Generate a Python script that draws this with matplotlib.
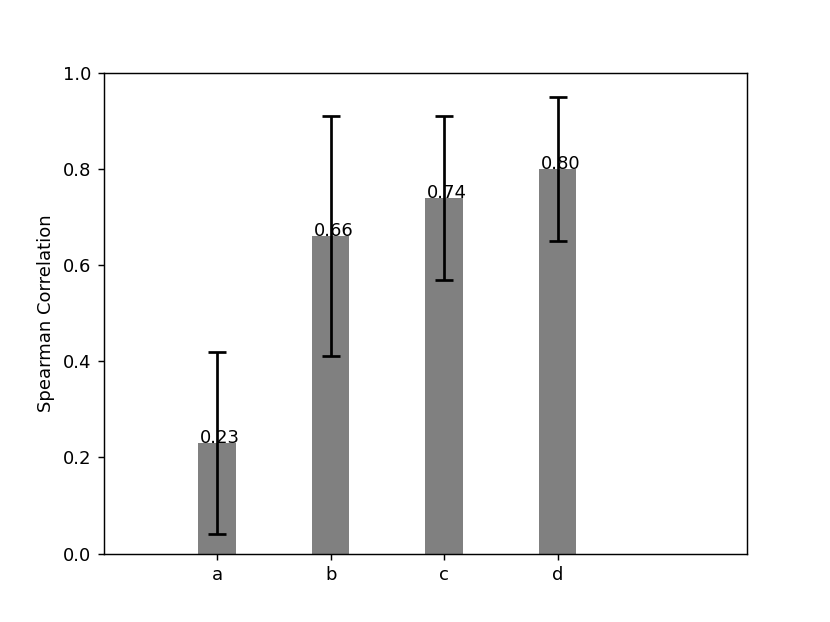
import numpy as np
import matplotlib.pyplot as plt

labels = ['a', 'b', 'c', 'd']
means = [0.23, 0.66, 0.74, 0.80]
errs = [0.19, 0.25, 0.17, 0.15]

x = np.arange(len(labels))

fig, ax = plt.subplots(figsize=(8.3 / 1.3, 6.22 / 1.3), dpi=130)
fig.subplots_adjust(top=0.883)
ax.bar(x, means, width=0.33, color='gray', zorder=1, yerr=errs,
       error_kw=dict(ecolor='black', elinewidth=1.5, capsize=5, capthick=1.5, zorder=3))

# labels start just inside the left edge of each bar
for xi, m in zip(x, means):
    ax.text(xi - 0.15, m, '%.2f' % m, ha='left', va='baseline', zorder=2)

ax.set_xticks(x)
ax.set_xticklabels(labels)
ax.set_xlim(-1, 4.67)
ax.set_ylim(0, 1.0)
ax.set_ylabel('Spearman Correlation')

plt.savefig('out.png')
